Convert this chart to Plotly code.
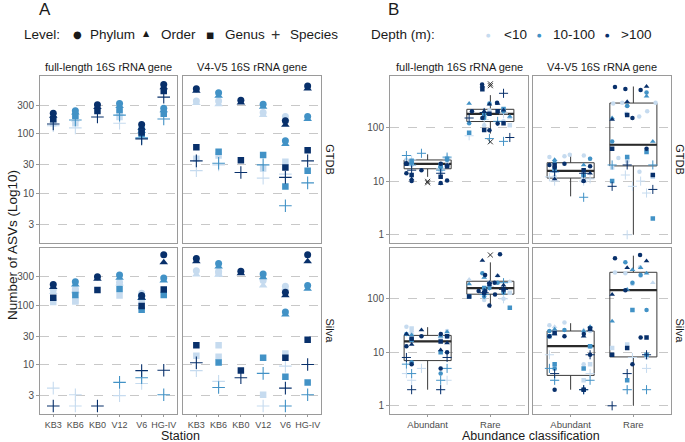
import plotly.graph_objects as go

STATIONS = ["KB3", "KB6", "KB0", "V12", "V6", "HG-IV"]
LEVELS = ["Phylum", "Order", "Genus", "Species"]
DEPTHS = ["<10", "10-100", ">100"]
CLASSES = ["Abundant", "Rare"]
GENES = ["full-length 16S rRNA gene", "V4-V5 16S rRNA gene"]
DATABASES = ["GTDB", "Silva"]
A_TICKS = [3, 10, 30, 100, 300]
B_TICKS = [1, 10, 100]

# ---------- Panel A: number of ASVs per station sample ----------
# (station, depth, phylum, order, genus, species)
A_GTDB_FULL = [
    ("KB3", "<10", 180, 165, 150, 136),
    ("KB3", ">100", 221, 199, 175, 145),
    ("KB6", "<10", 190, 170, 150, 125),
    ("KB6", "10-100", 243, 225, 200, 170),
    ("KB0", ">100", 305, 280, 240, 190),
    ("V12", "<10", 240, 220, 190, 150),
    ("V12", "10-100", 320, 290, 250, 205),
    ("V6", "10-100", 120, 110, 100, 85),
    ("V6", ">100", 142, 125, 105, 82),
    ("HG-IV", "10-100", 268, 245, 215, 176),
    ("HG-IV", ">100", 670, 600, 520, 410),
]
A_GTDB_V4V5 = [
    ("KB3", "<10", 354, 324, 38, 24),
    ("KB3", ">100", 569, 520, 59, 35),
    ("KB6", "<10", 354, 311, 43, 30),
    ("KB6", "10-100", 487, 430, 50, 32),
    ("KB0", ">100", 362, 331, 36, 22.4),
    ("V12", "<10", 226, 204, 26, 18),
    ("V12", "10-100", 311, 281, 44, 30),
    ("V6", "<10", 194, 176, 34, 21),
    ("V6", "10-100", 76, 67, 13, 6.2),
    ("V6", ">100", 164, 140, 27, 18.5),
    ("HG-IV", "10-100", 194, 176, 24, 15),
    ("HG-IV", ">100", 630, 569, 53, 35),
]
A_SILVA_FULL = [
    ("KB3", "<10", 180, 165, 112, 4),
    ("KB3", ">100", 221, 199, 132, 2),
    ("KB6", "<10", 186, 175, 119, 3.1),
    ("KB6", "<10", 180, 170, 115, 2),
    ("KB6", "10-100", 247, 221, 148, None),
    ("KB0", ">100", 300, 274, 179, 2),
    ("V12", "<10", 241, 230, 145, 3),
    ("V12", "10-100", 320, 285, 186, 5),
    ("V6", "<10", 158, 150, 110, 4.8),
    ("V6", "10-100", 140, 130, 83, 6),
    ("V6", ">100", 145, 132, 96, 7.9),
    ("HG-IV", "10-100", 285, 258, 148, 3.1),
    ("HG-IV", ">100", 700, 521, 182, 8),
]
A_SILVA_V4V5 = [
    ("KB3", "<10", 378, 324, 14, 7.9),
    ("KB3", ">100", 606, 540, 21, 10.7),
    ("KB6", "<10", 368, 324, 21, 5.2),
    ("KB6", "<10", 350, 320, 13.5, None),
    ("KB6", "10-100", 500, 441, 10.8, 4.1),
    ("KB0", ">100", 368, 341, 7.9, 6),
    ("V12", "<10", 258, 212, 3.1, 2),
    ("V12", "10-100", 332, 292, 13, 7.1),
    ("V6", "<10", 207, 190, 15.3, 9.4),
    ("V6", "10-100", 76, 69, 6.2, 2),
    ("V6", ">100", 164, 145, 13, 4),
    ("HG-IV", "10-100", 212, 186, 5, 3.1),
    ("HG-IV", ">100", 700, 540, 26, 10),
]

# ---------- Panel B: ASVs per abundance class (level, depth, count) ----------
B_GTDB_FULL_ABUNDANT = [
    ("Phylum", ">100", 9.2), ("Phylum", ">100", 10.3), ("Phylum", ">100", 14), ("Phylum", ">100", 21),
    ("Phylum", ">100", 10), ("Phylum", ">100", 16), ("Phylum", "10-100", 25), ("Phylum", "10-100", 18),
    ("Phylum", "10-100", 22), ("Phylum", "<10", 25), ("Phylum", "<10", 20), ("Phylum", "<10", 15),
    ("Phylum", "<10", 23), ("Order", ">100", 11), ("Order", ">100", 9), ("Order", ">100", 20),
    ("Order", ">100", 22), ("Order", "10-100", 19), ("Order", "10-100", 22), ("Order", "<10", 18),
    ("Order", "<10", 24), ("Genus", ">100", 12), ("Genus", ">100", 21), ("Genus", ">100", 19),
    ("Genus", ">100", 13), ("Genus", "10-100", 20), ("Genus", "10-100", 24), ("Genus", "10-100", 26),
    ("Genus", "<10", 17), ("Genus", "<10", 21), ("Species", ">100", 14), ("Species", ">100", 16),
    ("Species", "10-100", 33), ("Species", "10-100", 30), ("Species", "10-100", 28), ("Species", "10-100", 20),
    ("Species", "10-100", 16), ("Species", "<10", 26), ("Species", "<10", 25), ("Species", "<10", 17),
]
B_GTDB_FULL_RARE = [
    ("Phylum", ">100", 635), ("Phylum", ">100", 290), ("Phylum", ">100", 119), ("Phylum", ">100", 89),
    ("Phylum", ">100", 200), ("Phylum", ">100", 150), ("Phylum", "10-100", 280), ("Phylum", "10-100", 200),
    ("Phylum", "10-100", 150), ("Phylum", "10-100", 120), ("Phylum", "<10", 210), ("Phylum", "<10", 130),
    ("Phylum", "<10", 110), ("Order", ">100", 590), ("Order", ">100", 270), ("Order", ">100", 210),
    ("Order", ">100", 280), ("Order", ">100", 200), ("Order", "10-100", 280), ("Order", "10-100", 160),
    ("Order", "<10", 150), ("Genus", ">100", 513), ("Genus", ">100", 180), ("Genus", ">100", 120),
    ("Genus", ">100", 90), ("Genus", ">100", 200), ("Genus", "10-100", 170), ("Genus", "10-100", 80),
    ("Genus", "10-100", 220), ("Genus", "<10", 110), ("Species", ">100", 433), ("Species", ">100", 150),
    ("Species", ">100", 190), ("Species", ">100", 65), ("Species", "10-100", 55), ("Species", "10-100", 130),
    ("Species", "10-100", 62), ("Species", "<10", 70), ("Species", "<10", 140), ("Species", "<10", 180),
]
B_GTDB_V4V5_ABUNDANT = [
    ("Phylum", ">100", 21), ("Phylum", ">100", 20), ("Phylum", ">100", 19), ("Phylum", ">100", 18),
    ("Phylum", ">100", 10), ("Phylum", "10-100", 26), ("Phylum", "10-100", 22), ("Phylum", "10-100", 13),
    ("Phylum", "<10", 30), ("Phylum", "<10", 31), ("Phylum", "<10", 29), ("Phylum", "<10", 11),
    ("Phylum", "<10", 12), ("Phylum", "<10", 28), ("Phylum", "<10", 26), ("Order", ">100", 10),
    ("Order", ">100", 11), ("Order", ">100", 14), ("Order", "10-100", 25), ("Order", "10-100", 20),
    ("Genus", ">100", 16), ("Genus", ">100", 20), ("Genus", "10-100", 13), ("Genus", "10-100", 16),
    ("Genus", "<10", 13), ("Genus", "<10", 17), ("Species", ">100", 14), ("Species", ">100", 15),
    ("Species", "10-100", 5), ("Species", "10-100", 15), ("Species", "<10", 10), ("Species", "<10", 11),
    ("Species", "<10", 10), ("Species", "<10", 12),
]
B_GTDB_V4V5_RARE = [
    ("Phylum", ">100", 570), ("Phylum", ">100", 520), ("Phylum", ">100", 500), ("Phylum", ">100", 150),
    ("Phylum", ">100", 40), ("Phylum", "10-100", 450), ("Phylum", "10-100", 250), ("Phylum", "10-100", 55),
    ("Phylum", "<10", 290), ("Phylum", "<10", 280), ("Phylum", "<10", 290), ("Phylum", "<10", 200),
    ("Phylum", "<10", 180), ("Phylum", "<10", 160), ("Phylum", "<10", 27), ("Phylum", "<10", 15),
    ("Phylum", "<10", 23), ("Order", ">100", 580), ("Order", ">100", 300), ("Order", ">100", 140),
    ("Order", "10-100", 380), ("Order", "10-100", 260), ("Order", "10-100", 150), ("Order", "10-100", 55),
    ("Genus", ">100", 170), ("Genus", ">100", 40), ("Genus", ">100", 13), ("Genus", "10-100", 35),
    ("Genus", "10-100", 28), ("Genus", "10-100", 10), ("Genus", "10-100", 2), ("Genus", "<10", 12),
    ("Genus", "<10", 25), ("Genus", "<10", 18), ("Species", ">100", 7), ("Species", ">100", 8),
    ("Species", ">100", 20), ("Species", "10-100", 20), ("Species", "10-100", 20), ("Species", "<10", 13),
    ("Species", "<10", 8), ("Species", "<10", 10), ("Species", "<10", 6), ("Species", "<10", 1),
]
B_SILVA_FULL_ABUNDANT = [
    ("Phylum", ">100", 5), ("Phylum", ">100", 6), ("Phylum", ">100", 13), ("Phylum", ">100", 20),
    ("Phylum", ">100", 22), ("Phylum", ">100", 10), ("Phylum", "10-100", 4), ("Phylum", "10-100", 6.5),
    ("Phylum", "10-100", 20), ("Phylum", "10-100", 22), ("Phylum", "<10", 30), ("Phylum", "<10", 25),
    ("Phylum", "<10", 18), ("Phylum", "<10", 22), ("Order", ">100", 15), ("Order", ">100", 14),
    ("Order", ">100", 11), ("Order", ">100", 22), ("Order", ">100", 26), ("Order", "10-100", 20),
    ("Order", "10-100", 21), ("Order", "10-100", 24), ("Order", "<10", 25), ("Order", "<10", 22),
    ("Genus", ">100", 16), ("Genus", ">100", 20), ("Genus", ">100", 18), ("Genus", "10-100", 10),
    ("Genus", "10-100", 17), ("Genus", "<10", 20), ("Genus", "<10", 28), ("Species", ">100", 8),
    ("Species", ">100", 8), ("Species", ">100", 2), ("Species", ">100", 2), ("Species", "10-100", 5),
    ("Species", "10-100", 6), ("Species", "10-100", 3), ("Species", "10-100", 4), ("Species", "<10", 3),
    ("Species", "<10", 3), ("Species", "<10", 5), ("Species", "<10", 2), ("Species", "<10", 4),
]
B_SILVA_FULL_RARE = [
    ("Phylum", ">100", 680), ("Phylum", ">100", 280), ("Phylum", ">100", 140), ("Phylum", ">100", 120),
    ("Phylum", ">100", 200), ("Phylum", ">100", 140), ("Phylum", ">100", 75), ("Phylum", "10-100", 300),
    ("Phylum", "10-100", 160), ("Phylum", "10-100", 130), ("Phylum", "10-100", 200), ("Phylum", "10-100", 110),
    ("Phylum", "<10", 100), ("Phylum", "<10", 95), ("Phylum", "<10", 200), ("Phylum", "<10", 270),
    ("Order", ">100", 520), ("Order", ">100", 270), ("Order", ">100", 200), ("Order", ">100", 180),
    ("Order", "10-100", 250), ("Order", "10-100", 190), ("Order", "<10", 210), ("Order", "<10", 230),
    ("Genus", ">100", 190), ("Genus", ">100", 150), ("Genus", ">100", 130), ("Genus", ">100", 110),
    ("Genus", "10-100", 68), ("Genus", "10-100", 160), ("Genus", "10-100", 110), ("Genus", "<10", 130),
    ("Species", ">100", 130), ("Species", ">100", 150), ("Species", "10-100", 200), ("Species", "10-100", 120),
    ("Species", "<10", 170), ("Species", "<10", 100),
]
B_SILVA_V4V5_ABUNDANT = [
    ("Phylum", ">100", 22), ("Phylum", ">100", 20), ("Phylum", ">100", 9), ("Phylum", ">100", 2),
    ("Phylum", ">100", 20), ("Phylum", ">100", 2), ("Phylum", "10-100", 25), ("Phylum", "10-100", 13),
    ("Phylum", "10-100", 5), ("Phylum", "10-100", 2), ("Phylum", "10-100", 26), ("Phylum", "<10", 36),
    ("Phylum", "<10", 32), ("Phylum", "<10", 25), ("Phylum", "<10", 6), ("Phylum", "<10", 24),
    ("Order", ">100", 26), ("Order", ">100", 22), ("Order", ">100", 20), ("Order", "10-100", 30),
    ("Order", "10-100", 27), ("Order", "10-100", 25), ("Order", "<10", 30), ("Order", "<10", 26),
    ("Genus", ">100", 28), ("Genus", ">100", 23), ("Genus", ">100", 2), ("Genus", "10-100", 20),
    ("Genus", "10-100", 5), ("Genus", "10-100", 13), ("Genus", "10-100", 6), ("Genus", "<10", 6),
    ("Genus", "<10", 5), ("Genus", "<10", 3), ("Species", ">100", 9), ("Species", ">100", 2),
    ("Species", ">100", 4), ("Species", "10-100", 3), ("Species", "10-100", 3), ("Species", "10-100", 2),
    ("Species", "10-100", 5), ("Species", "<10", 3), ("Species", "<10", 2), ("Species", "<10", 4),
    ("Species", "<10", 9),
]
B_SILVA_V4V5_RARE = [
    ("Phylum", ">100", 660), ("Phylum", ">100", 575), ("Phylum", ">100", 145), ("Phylum", ">100", 6),
    ("Phylum", ">100", 19), ("Phylum", "10-100", 480), ("Phylum", "10-100", 200), ("Phylum", "10-100", 280),
    ("Phylum", "10-100", 62), ("Phylum", "<10", 390), ("Phylum", "<10", 270), ("Phylum", "<10", 310),
    ("Phylum", "<10", 300), ("Phylum", "<10", 190), ("Phylum", "<10", 8), ("Order", ">100", 510),
    ("Order", ">100", 120), ("Order", ">100", 380), ("Order", "10-100", 380), ("Order", "10-100", 300),
    ("Order", "10-100", 38), ("Order", "10-100", 150), ("Order", "10-100", 350), ("Order", "<10", 200),
    ("Genus", ">100", 12), ("Genus", ">100", 9), ("Genus", ">100", 19), ("Genus", "10-100", 9),
    ("Genus", "10-100", 3), ("Genus", "10-100", 62), ("Genus", "<10", 14), ("Genus", "<10", 12),
    ("Species", ">100", 4), ("Species", ">100", 1), ("Species", ">100", 9), ("Species", "10-100", 2),
    ("Species", "10-100", 2), ("Species", "<10", 5), ("Species", "<10", 8), ("Species", "<10", 2),
]

# box statistics (Abundant, Rare)
B_BOX_GTDB_FULL = {"q1": [17, 129], "median": [21, 179], "q3": [24.8, 218], "lowerfence": [12, 77], "upperfence": [31.6, 400]}
B_BOX_GTDB_V4V5 = {"q1": [11.4, 19.2], "median": [15.5, 47.6], "q3": [22, 285], "lowerfence": [5.2, 1], "upperfence": [33, 580]}
B_BOX_SILVA_FULL = {"q1": [7, 122], "median": [16, 158], "q3": [20.7, 213], "lowerfence": [2, 68], "upperfence": [29.5, 480]}
B_BOX_SILVA_V4V5 = {"q1": [3.7, 8.2], "median": [13, 145], "q3": [25, 313], "lowerfence": [2, 1], "upperfence": [35, 640]}
# outliers (class, count)
B_OUT_GTDB_FULL = [("Abundant", 9.3), ("Abundant", 9.9), ("Rare", 54), ("Rare", 600), ("Rare", 650)]
B_OUT_GTDB_V4V5 = []
B_OUT_SILVA_FULL = [("Rare", 660)]
B_OUT_SILVA_V4V5 = []

# ---------- styling ----------
COLORS = {"<10": "#c6dbef", "10-100": "#4292c6", ">100": "#08306b"}
SYMBOLS = {"Phylum": "circle", "Order": "triangle-up", "Genus": "square", "Species": "cross-thin"}
A_SIZES = {"Phylum": 7, "Order": 7.5, "Genus": 6.5, "Species": 9}
B_SIZES = {"Phylum": 4.5, "Order": 5, "Genus": 4.5, "Species": 6.5}
FONT = "Liberation Sans, Arial, Helvetica, sans-serif"
W, H = 685, 442


def px(x):
    return x / W


def py(y):
    return 1 - y / H


def dom_x(a, b):
    return [px(a), px(b)]


def dom_y(top, bottom):
    return [py(bottom), py(top)]


fig = go.Figure()

A_COLS = [(40, 177), (183, 321)]
B_COLS = [(390, 528), (533, 671)]
ROWS = [(76, 242.5), (247.5, 413.5)]

A_PANELS = [A_GTDB_FULL, A_GTDB_V4V5, A_SILVA_FULL, A_SILVA_V4V5]
B_PANELS = [
    (B_GTDB_FULL_ABUNDANT, B_GTDB_FULL_RARE, B_BOX_GTDB_FULL, B_OUT_GTDB_FULL),
    (B_GTDB_V4V5_ABUNDANT, B_GTDB_V4V5_RARE, B_BOX_GTDB_V4V5, B_OUT_GTDB_V4V5),
    (B_SILVA_FULL_ABUNDANT, B_SILVA_FULL_RARE, B_BOX_SILVA_FULL, B_OUT_SILVA_FULL),
    (B_SILVA_V4V5_ABUNDANT, B_SILVA_V4V5_RARE, B_BOX_SILVA_V4V5, B_OUT_SILVA_V4V5),
]

layout_axes = {}
GRID = "#c8c8c8"
BORDER = "#9a9a9a"
TICKFONT = dict(family=FONT, size=10, color="#4d4d4d")


def make_axes(idx, cols, row_i, col_i, cats, yrange, yticks, xtickfont, xticklen):
    xa = dict(
        domain=dom_x(*cols[col_i]), anchor=f"y{idx}", type="category",
        categoryorder="array", categoryarray=cats,
        range=[-0.6, len(cats) - 0.4],
        showline=True, mirror=True, linecolor=BORDER, linewidth=1,
        showgrid=False, zeroline=False, fixedrange=True,
        showticklabels=(row_i == 1), ticks="outside" if row_i == 1 else "",
        ticklen=xticklen, tickcolor=BORDER, tickfont=xtickfont,
    )
    ya = dict(
        domain=dom_y(*ROWS[row_i]), anchor=f"x{idx}", type="log",
        range=yrange, tickvals=yticks, ticktext=[str(t) for t in yticks],
        showline=True, mirror=True, linecolor=BORDER, linewidth=1,
        showgrid=True, gridcolor=GRID, griddash="dash", gridwidth=1,
        zeroline=False, fixedrange=True,
        showticklabels=(col_i == 0), ticks="outside" if col_i == 0 else "",
        ticklen=3, tickcolor=BORDER, tickfont=TICKFONT,
    )
    key = "" if idx == 1 else str(idx)
    layout_axes[f"xaxis{key}"] = xa
    layout_axes[f"yaxis{key}"] = ya


# ---- Panel A ----
for p, rows in enumerate(A_PANELS):
    idx = p + 1
    row_i, col_i = divmod(p, 2)
    make_axes(idx, A_COLS, row_i, col_i, STATIONS, [0.176, 2.967], A_TICKS,
              dict(family=FONT, size=9, color="#4d4d4d"), 2.5)
    for depth in DEPTHS:
        for li in [3, 2, 1, 0]:
            level = LEVELS[li]
            xs, ys = [], []
            for r in rows:
                if r[1] == depth and r[2 + li] is not None:
                    xs.append(r[0])
                    ys.append(r[2 + li])
            if not xs:
                continue
            c = COLORS[depth]
            fig.add_trace(go.Scatter(
                x=xs, y=ys, mode="markers", xaxis=f"x{idx}", yaxis=f"y{idx}",
                showlegend=False, hoverinfo="skip",
                marker=dict(symbol=SYMBOLS[level], size=A_SIZES[level], color=c,
                            line=dict(color=c, width=1.1 if level == "Species" else 0)),
            ))

# ---- Panel B ----
for p, (abund, rare, box, outs) in enumerate(B_PANELS):
    idx = p + 5
    row_i, col_i = divmod(p, 2)
    make_axes(idx, B_COLS, row_i, col_i, CLASSES, [-0.144, 2.959], B_TICKS,
              dict(family=FONT, size=9.5, color="#4d4d4d"), 2)
    xa, ya = f"x{idx}", f"y{idx}"
    fig.add_trace(go.Box(
        x=CLASSES, q1=box["q1"], median=box["median"], q3=box["q3"],
        lowerfence=box["lowerfence"], upperfence=box["upperfence"],
        width=0.75, whiskerwidth=0, boxpoints=False,
        fillcolor="rgba(255,255,255,0)", line=dict(color="#3a3a3a", width=1),
        xaxis=xa, yaxis=ya, showlegend=False, hoverinfo="skip",
    ))
    fig.add_trace(go.Box(
        x=CLASSES, q1=box["median"], median=box["median"], q3=box["median"],
        lowerfence=box["median"], upperfence=box["median"],
        width=0.75, whiskerwidth=0, boxpoints=False,
        fillcolor="rgba(255,255,255,0)", line=dict(color="#2a2a2a", width=2.2),
        xaxis=xa, yaxis=ya, showlegend=False, hoverinfo="skip",
    ))
    if outs:
        fig.add_trace(go.Scatter(
            x=[o[0] for o in outs], y=[o[1] for o in outs], mode="markers",
            xaxis=xa, yaxis=ya, showlegend=False, hoverinfo="skip",
            marker=dict(symbol="x-thin", size=5, color="#333333",
                        line=dict(color="#333333", width=1)),
        ))
    for depth in DEPTHS:
        for level in LEVELS:
            xs, ys = [], []
            for cls, pts in zip(CLASSES, (abund, rare)):
                for lv, dp, v in pts:
                    if lv == level and dp == depth:
                        xs.append(cls)
                        ys.append(v)
            if not xs:
                continue
            c = COLORS[depth]
            fig.add_trace(go.Box(
                x=xs, y=ys, boxpoints="all", jitter=1, pointpos=0, width=0.8,
                fillcolor="rgba(0,0,0,0)", line=dict(color="rgba(0,0,0,0)", width=0),
                whiskerwidth=0, xaxis=xa, yaxis=ya, showlegend=False, hoverinfo="skip",
                marker=dict(symbol=SYMBOLS[level], size=B_SIZES[level], color=c,
                            line=dict(color=c, width=1 if level == "Species" else 0)),
            ))

# ---------- annotations ----------
ann = []


def text(x, y, s, size=13.5, color="#1a1a1a", xanchor="center", angle=0, family=FONT):
    ann.append(dict(x=px(x), y=py(y), xref="paper", yref="paper", text=s, showarrow=False,
                    xanchor=xanchor, yanchor="middle", textangle=angle,
                    font=dict(family=family, size=size, color=color)))


text(45, 9, "A", size=17)
text(393, 9, "B", size=17)
# Level legend
text(22, 35, "Level:", xanchor="left")
text(77, 35, "\u25CF", size=10, family="DejaVu Sans")
text(88, 35, "Phylum", xanchor="left")
text(146, 34, "\u25B2", size=8, family="DejaVu Sans")
text(159, 35, "Order", xanchor="left")
text(210, 35, "\u25A0", size=8.5, family="DejaVu Sans")
text(223, 35, "Genus", xanchor="left")
text(275, 34.5, "+", size=16, color="#333333")
text(288, 35, "Species", xanchor="left")
# Depth legend
text(369, 35, "Depth (m):", xanchor="left")
text(488, 35, "\u25CF", size=5, color=COLORS["<10"], family="DejaVu Sans")
text(502, 35, "&lt;10", xanchor="left")
text(539, 35, "\u25CF", size=5, color=COLORS["10-100"], family="DejaVu Sans")
text(551, 35, "10-100", xanchor="left")
text(607, 35, "\u25CF", size=5, color=COLORS[">100"], family="DejaVu Sans")
text(619, 35, "&gt;100", xanchor="left")
# strips
for cols in (A_COLS, B_COLS):
    for (a, b), g in zip(cols, GENES):
        text((a + b) / 2, 67, g, size=11)
for xs in (330, 680):
    for (t, b), d in zip(ROWS, DATABASES):
        text(xs, (t + b) / 2, d, size=11, angle=90)
# axis titles
text(180.5, 436, "Station", size=12.5)
text(530.5, 436, "Abundance classification", size=12.5)
text(12, 245, "Number of ASVs (Log10)", angle=-90)

fig.update_layout(
    width=W, height=H, autosize=False,
    margin=dict(l=0, r=0, t=0, b=0, pad=0),
    paper_bgcolor="white", plot_bgcolor="white",
    font=dict(family=FONT, color="#1a1a1a"),
    showlegend=False, boxmode="overlay",
    annotations=ann,
    **layout_axes,
)

fig.write_html("out.html", config={"displayModeBar": False},
               post_script="document.body.style.margin='0';")
